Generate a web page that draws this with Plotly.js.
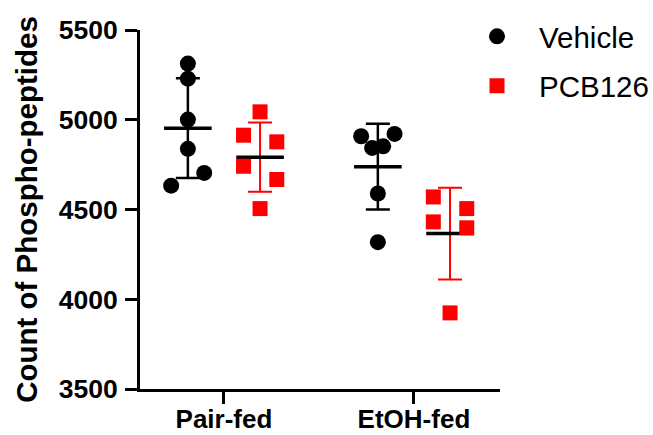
<!DOCTYPE html>
<html>
<head>
<meta charset="utf-8">
<script src="https://cdn.plot.ly/plotly-3.0.1.min.js"></script>
<style>html,body{margin:0;padding:0;background:#fff;}#chart{width:653px;height:435px;}</style>
</head>
<body>
<div id="chart"></div>
<script>
// ---- data ----
var categories = ['Pair-fed', 'EtOH-fed'];
var seriesNames = ['Vehicle', 'PCB126'];
var vehiclePairFed = [5313, 5229, 5001, 4838, 4704, 4633];
var pcbPairFed     = [5044, 4914, 4877, 4741, 4667, 4505];
var vehicleEtohFed = [4921, 4908, 4852, 4843, 4589, 4318];
var pcbEtohFed     = [4570, 4505, 4431, 4398, 3924];
var yTicks = [3500, 4000, 4500, 5000, 5500];

// ---- layout constants (positions / styles) ----
var groupOffset = [-0.19, 0.19];
var jitter = {
  vp: [0, 0, 0, 0, 0.086, -0.088],
  pp: [0, -0.087, 0.088, -0.087, 0.088, 0],
  ve: [0.088, -0.088, 0.028, -0.03, 0, 0],
  pe: [-0.088, 0.088, -0.088, 0.088, 0]
};
var colors = ['#000000', '#ff0000'];
var font = 'Arial, "Liberation Sans", sans-serif';

function mean(a){ return a.reduce(function(s,v){return s+v;},0)/a.length; }
function sd(a){ var m=mean(a); return Math.sqrt(a.reduce(function(s,v){return s+(v-m)*(v-m);},0)/(a.length-1)); }

var groups = [
  {vals: vehiclePairFed, cat: 0, s: 0, jit: jitter.vp},
  {vals: pcbPairFed,     cat: 0, s: 1, jit: jitter.pp},
  {vals: vehicleEtohFed, cat: 1, s: 0, jit: jitter.ve},
  {vals: pcbEtohFed,     cat: 1, s: 1, jit: jitter.pe}
];

var traces = [];
// error bars (SD)
groups.forEach(function(g){
  var cx = g.cat + groupOffset[g.s];
  traces.push({
    type: 'scatter', mode: 'markers', x: [cx], y: [mean(g.vals)],
    marker: {size: 1, color: 'rgba(0,0,0,0)'},
    error_y: {type: 'data', array: [sd(g.vals)], visible: true, color: colors[g.s], thickness: g.s === 0 ? 2.5 : 2, width: 12},
    showlegend: false, hoverinfo: 'skip'
  });
});
// mean lines
groups.forEach(function(g){
  var cx = g.cat + groupOffset[g.s];
  traces.push({
    type: 'scatter', mode: 'markers', x: [cx], y: [mean(g.vals)],
    marker: {symbol: 'line-ew', size: 34, line: {width: 3.5, color: '#000000'}},
    showlegend: false, hoverinfo: 'skip'
  });
});
// points
[0, 1].forEach(function(s){
  var xs = [], ys = [];
  groups.filter(function(g){return g.s === s;}).forEach(function(g){
    g.vals.forEach(function(v, i){
      xs.push(g.cat + groupOffset[s] + g.jit[i]);
      ys.push(v);
    });
  });
  traces.push({
    type: 'scatter', mode: 'markers', name: seriesNames[s], x: xs, y: ys,
    legendgroup: 'g' + s,
    marker: {symbol: s === 0 ? 'circle' : 'square', size: s === 0 ? 16 : 15, color: colors[s], line: {width: 0}}
  });
});

var layout = {
  width: 653, height: 435,
  margin: {l: 140, r: 153, t: 30, b: 46, pad: 0, autoexpand: false},
  paper_bgcolor: '#ffffff', plot_bgcolor: '#ffffff',
  font: {family: font, color: '#000000'},
  showlegend: true,
  legend: {
    x: 0.875, y: 1.054, xanchor: 'left', yanchor: 'top',
    font: {family: font, size: 29.5, color: '#000000'},
    itemwidth: 74, tracegroupgap: 8, traceorder: 'grouped',
    bgcolor: 'rgba(0,0,0,0)'
  },
  xaxis: {
    range: [-0.442, 1.453], tickmode: 'array', tickvals: [0, 1], ticktext: categories,
    showline: true, linewidth: 3, linecolor: '#000000',
    ticks: 'outside', ticklen: 12, tickwidth: 3, tickcolor: '#000000',
    showgrid: false, zeroline: false, ticklabelstandoff: -7,
    tickfont: {family: font, size: 26, color: '#000000', weight: 'bold'}
  },
  yaxis: {
    range: [3500, 5500], tickmode: 'array', tickvals: yTicks, ticktext: yTicks.map(String),
    showline: true, linewidth: 3, linecolor: '#000000',
    ticks: 'outside', ticklen: 12, tickwidth: 3, tickcolor: '#000000',
    showgrid: false, zeroline: false, ticklabelstandoff: 2,
    tickfont: {family: font, size: 26.5, color: '#000000', weight: 'bold'},
    title: {text: 'Count of Phospho-peptides', font: {family: font, size: 29.5, color: '#000000', weight: 'bold'}, standoff: 13}
  }
};

Plotly.newPlot('chart', traces, layout, {displayModeBar: false, staticPlot: true});
</script>
</body>
</html>
